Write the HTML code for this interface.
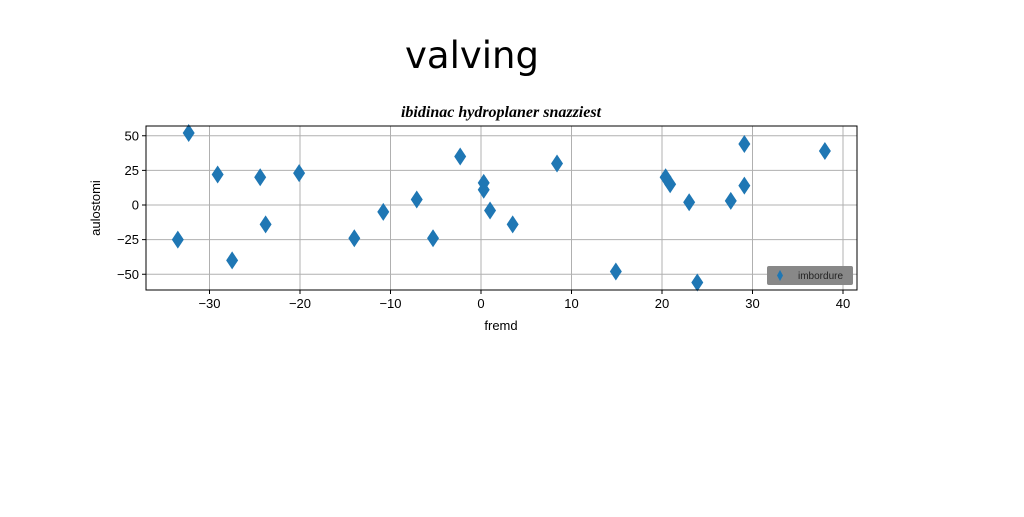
<!DOCTYPE html>
<html><head><meta charset="utf-8"><style>
body{margin:0;width:1024px;height:512px;background:#fff;overflow:hidden;font-family:"Liberation Sans",sans-serif}
</style></head><body>
<svg width="1024" height="512" id="svg">
<text x="472" y="68" font-size="37" text-anchor="middle" font-family="'Comic Sans MS','DejaVu Sans',sans-serif">valving</text>
<text x="501" y="117" font-size="16" font-style="italic" font-weight="bold" text-anchor="middle" font-family="'Liberation Serif',serif">ibidinac hydroplaner snazziest</text>
<g id="grid"></g><g id="ticks"></g><g id="marks"></g>
<rect x="146" y="126" width="711" height="164" fill="none" stroke="#000" stroke-width="1"/>
<text x="501" y="330" font-size="13" text-anchor="middle">fremd</text>
<text x="100" y="208" font-size="13" text-anchor="middle" transform="rotate(-90 100 208)">aulostomi</text>
<g>
<rect x="767" y="266" width="86" height="19" rx="2" fill="#888"/>
<polygon points="780,270 783,275.5 780,281 777,275.5" fill="#1f77b4"/>
<text x="798" y="279" font-size="10" fill="#222">imbordure</text>
</g>
</svg>
<script>
const xs=[-33.5,-32.3,-29.1,-27.5,-24.4,-23.8,-20.1,-14,-10.8,-7.1,-5.3,-2.3,0.3,0.3,1,3.5,8.4,14.9,20.4,20.9,23,23.9,27.6,29.1,29.1,38];
const ys=[-25,52,22,-40,20,-14,23,-24,-5,4,-24,35,16,11,-4,-14,30,-48,20,15,2,-56,3,14,44,39];
const xTicks=[-30,-20,-10,0,10,20,30,40];
const yTicks=[-50,-25,0,25,50];
const NS="http://www.w3.org/2000/svg";
function sx(v){return 481+v*9.05;}
function sy(v){return 205-v*1.385;}
function mk(t,a,p){const e=document.createElementNS(NS,t);for(const k in a)e.setAttribute(k,a[k]);p.appendChild(e);return e;}
const grid=document.getElementById('grid'),ticks=document.getElementById('ticks'),marks=document.getElementById('marks');
xTicks.forEach(v=>{const x=sx(v);
const g=mk('line',{x1:x,x2:x,y1:126,y2:290,stroke:'#b0b0b0','stroke-width':1},grid);


const tk=mk('line',{x1:x,x2:x,y1:290,y2:294,stroke:'#000'},ticks);


const t=mk('text',{x:x,y:308,'font-size':13,'text-anchor':'middle'},ticks);t.textContent=v<0?'\u2212'+(-v):v;

});
yTicks.forEach(v=>{const y=sy(v);
const g=mk('line',{x1:146,x2:857,y1:y,y2:y,stroke:'#b0b0b0','stroke-width':1},grid);


const tk=mk('line',{x1:142,x2:146,y1:y,y2:y,stroke:'#000'},ticks);


const t=mk('text',{x:139,y:y+4.5,'font-size':13,'text-anchor':'end'},ticks);t.textContent=v<0?'\u2212'+(-v):v;

});
xs.forEach((v,i)=>{const x=sx(v),y=sy(ys[i]);
const p=mk('polygon',{points:`${x},${y-9} ${x+6},${y} ${x},${y+9} ${x-6},${y}`,fill:'#1f77b4'},marks);

});
</script>
</body></html>
